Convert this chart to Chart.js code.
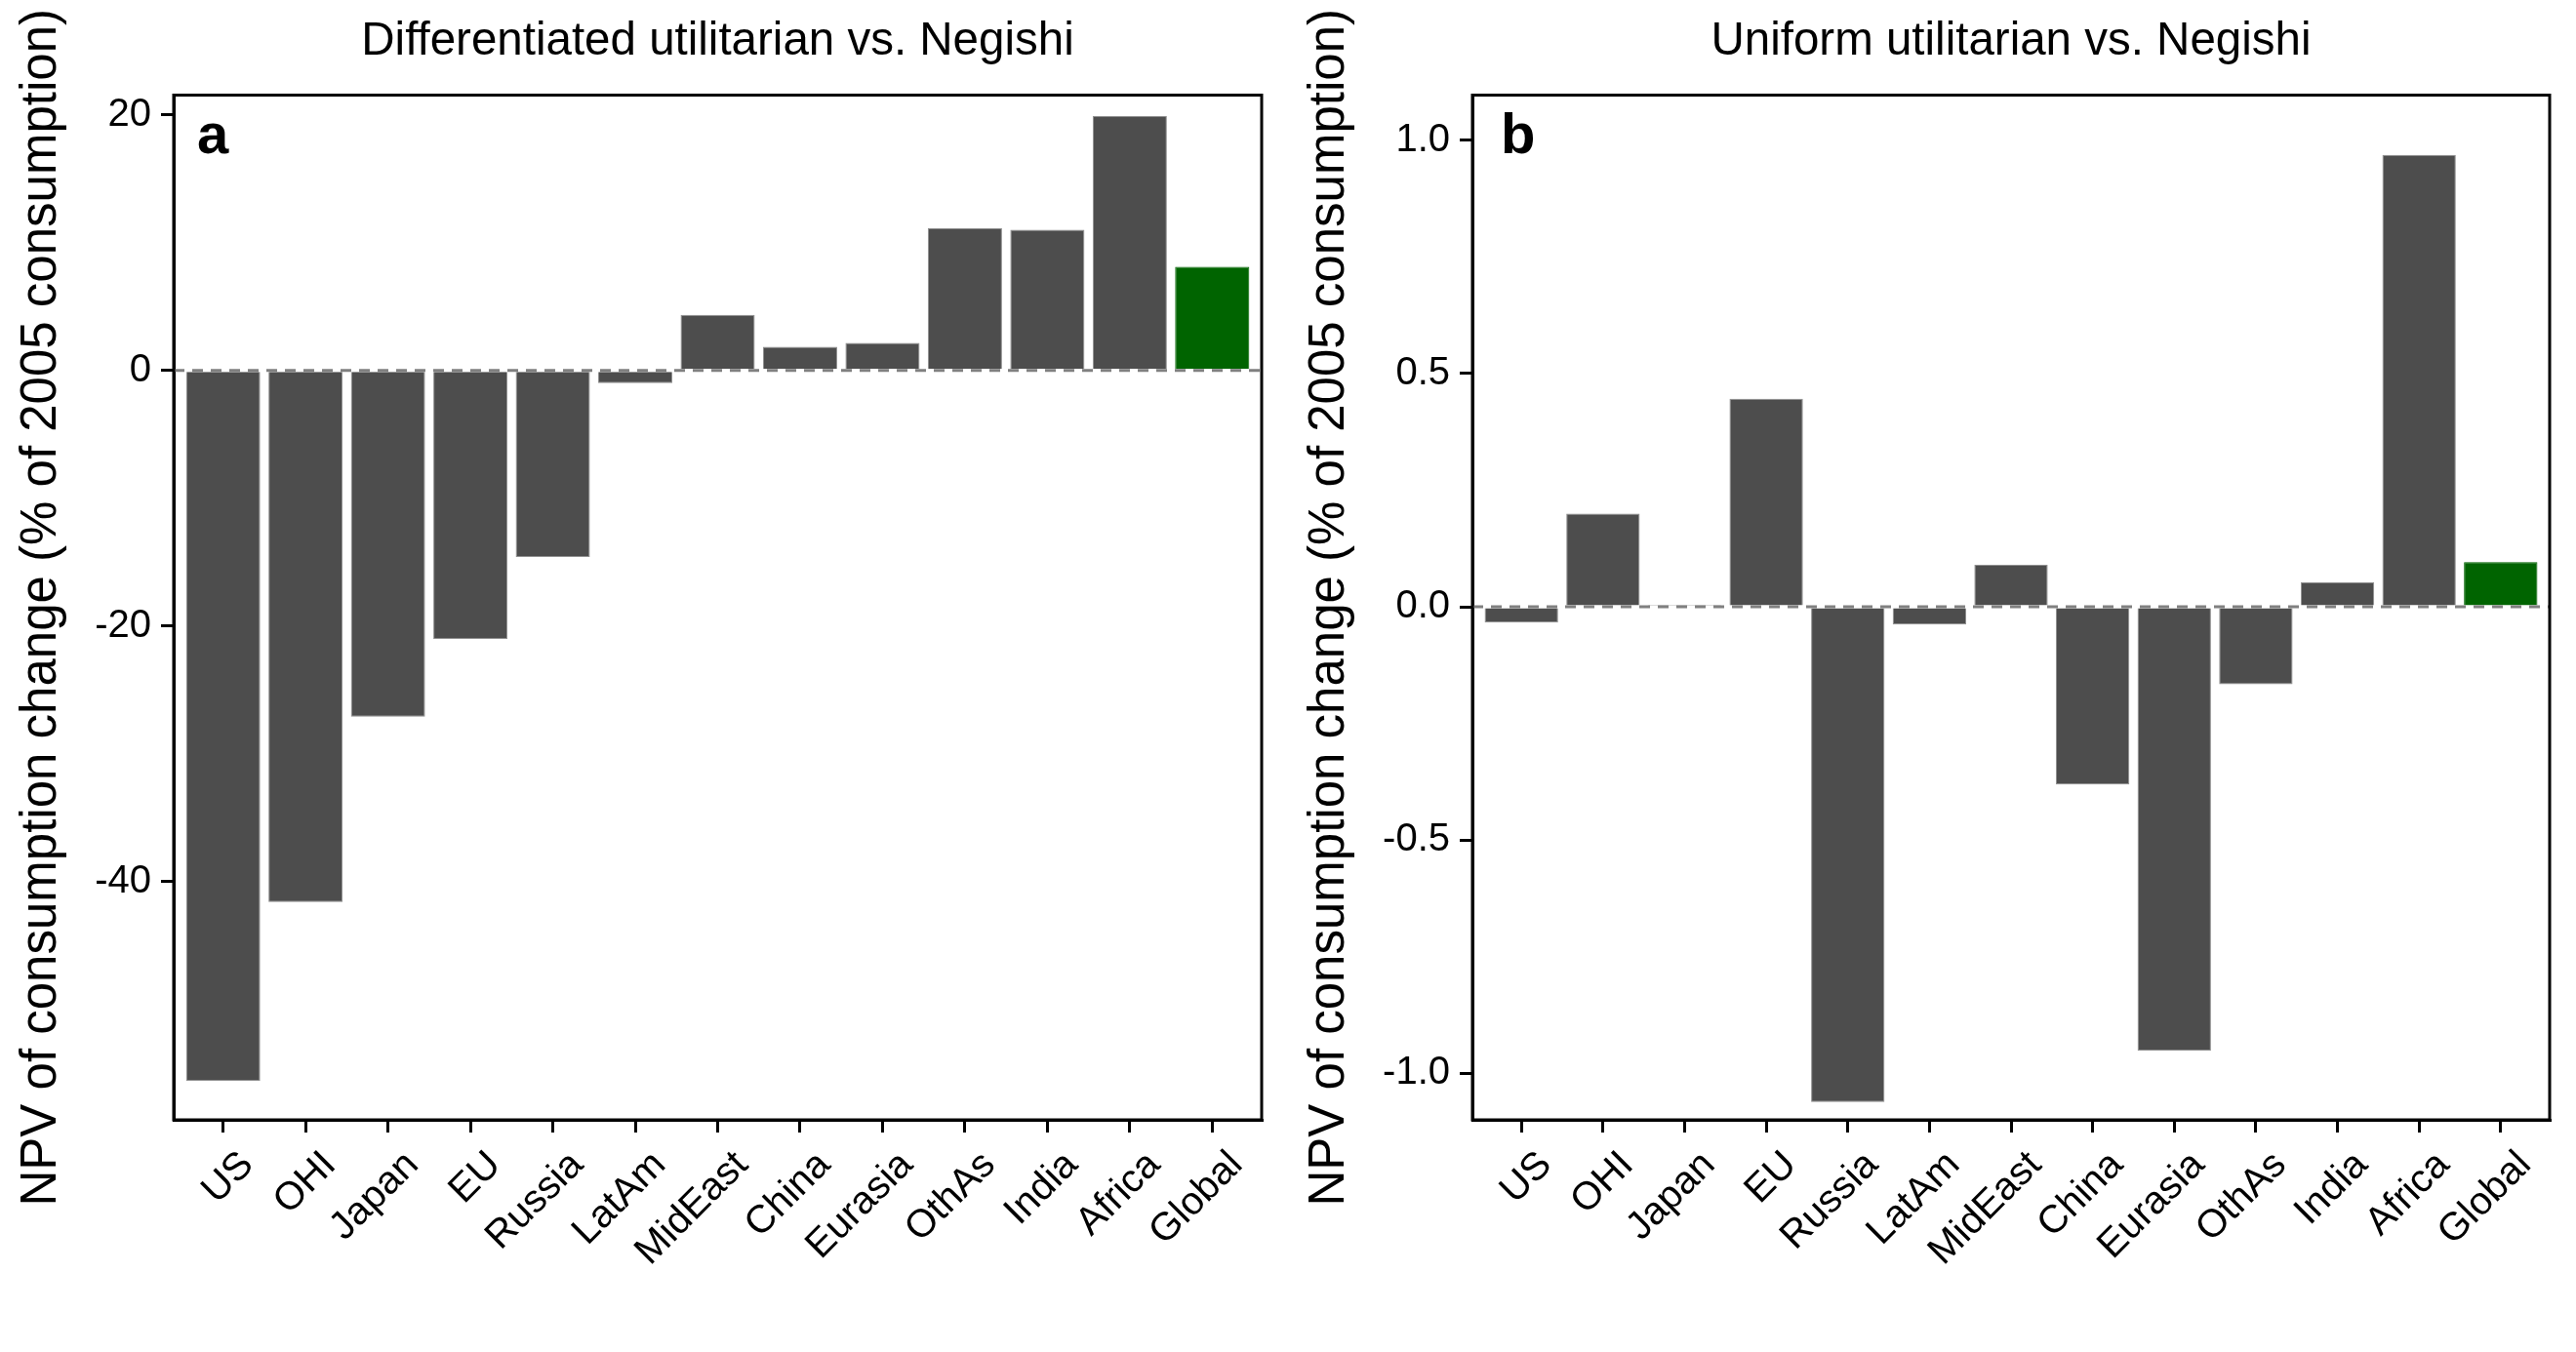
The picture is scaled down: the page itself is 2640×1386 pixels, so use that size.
<!DOCTYPE html>
<html>
<head>
<meta charset="utf-8">
<script src="https://cdn.jsdelivr.net/npm/chart.js@4.4.1/dist/chart.umd.min.js"></script>
<style>
  body { margin: 0; background: #fff; }
  #wrap { position: relative; width: 2640px; height: 1386px; }
  canvas { position: absolute; top: 0; }
</style>
</head>
<body>
<div id="wrap">
  <canvas id="panelA" width="1320" height="1386" style="left:0"></canvas>
  <canvas id="panelB" width="1320" height="1386" style="left:1320px"></canvas>
</div>
<script>
const categories = ["US", "OHI", "Japan", "EU", "Russia", "LatAm", "MidEast", "China", "Eurasia", "OthAs", "India", "Africa", "Global"];

// NPV of consumption change, % of 2005 consumption
const diffUtilVsNegishi = [-55.6, -41.6, -27.1, -21.0, -14.6, -1.0, 4.35, 1.85, 2.15, 11.15, 11.0, 19.9, 8.1];
const unifUtilVsNegishi = [-0.034, 0.200, 0.004, 0.446, -1.062, -0.038, 0.090, -0.381, -0.952, -0.166, 0.053, 0.969, 0.096];

const yTicksA = [-40, -20, 0, 20];
const yTicksB = [-1.0, -0.5, 0.0, 0.5, 1.0];

const yTitle = "NPV of consumption change (% of 2005 consumption)";

Chart.defaults.font.family = "'Liberation Sans', Arial, Helvetica, sans-serif";
Chart.defaults.color = "#000";

// dashed zero line, panel frame and panel letter
const framePlugin = {
  id: "frame",
  afterDatasetsDraw(chart, args, opts) {
    const { ctx, chartArea: a, scales } = chart;
    const y0 = scales.y.getPixelForValue(0);
    ctx.save();
    ctx.strokeStyle = "#808080";
    ctx.lineWidth = 3;
    ctx.setLineDash([11, 8]);
    ctx.beginPath();
    ctx.moveTo(a.left, y0);
    ctx.lineTo(a.right, y0);
    ctx.stroke();
    ctx.setLineDash([]);
    ctx.strokeStyle = "#000";
    ctx.lineWidth = 3;
    ctx.strokeRect(a.left, a.top, a.right - a.left, a.bottom - a.top);
    ctx.font = "bold 58px 'Liberation Sans', Arial, sans-serif";
    ctx.fillStyle = "#000";
    ctx.textBaseline = "alphabetic";
    ctx.fillText(opts.letter, a.left + opts.dx, 157);
    ctx.restore();
  }
};

function makePanel(canvasId, title, values, yMin, yMax, yTicks, fmt, axisWidth, letter, letterDx) {
  const ctx = document.getElementById(canvasId).getContext("2d");
  return new Chart(ctx, {
    type: "bar",
    data: {
      datasets: [{
        data: values.map((v, i) => ({ x: i + 1, y: v })),
        backgroundColor: categories.map(c => c === "Global" ? "#006400" : "#4d4d4d"),
        borderColor: categories.map(c => c === "Global" ? "#006400" : "#8f8f8f"),
        borderWidth: 1,
        barPercentage: 0.9,
        categoryPercentage: 1.0
      }]
    },
    options: {
      responsive: false,
      animation: false,
      layout: { padding: { left: 0, right: 27, top: 0, bottom: 0 } },
      plugins: {
        legend: { display: false },
        tooltip: { enabled: false },
        title: {
          display: true,
          text: title,
          fullSize: false,
          color: "#000",
          font: { size: 47.5, weight: "normal" },
          padding: { top: 14.5, bottom: 26 }
        },
        frame: { letter: letter, dx: letterDx }
      },
      scales: {
        x: {
          type: "linear",
          min: 0.4,
          max: 13.6,
          offset: false,
          afterBuildTicks: s => { s.ticks = categories.map((c, i) => ({ value: i + 1 })); },
          afterFit: s => { s.height = 238; },
          ticks: {
            autoSkip: false,
            minRotation: 45,
            maxRotation: 45,
            labelOffset: 25,
            padding: 10,
            color: "#000",
            font: { size: 40 },
            callback: v => categories[v - 1]
          },
          grid: { drawOnChartArea: false, drawTicks: true, offset: false, tickLength: 13, lineWidth: 3, tickWidth: 3, color: "#000", tickColor: "#000" },
          border: { display: true, color: "#000", width: 3 }
        },
        y: {
          min: yMin,
          max: yMax,
          afterBuildTicks: s => { s.ticks = yTicks.map(v => ({ value: v })); },
          afterFit: s => { s.width = axisWidth; },
          ticks: {
            padding: 10,
            color: "#000",
            font: { size: 40 },
            callback: v => fmt(v)
          },
          grid: { drawOnChartArea: false, drawTicks: true, tickLength: 13, lineWidth: 3, tickWidth: 3, color: "#000", tickColor: "#000" },
          border: { display: true, color: "#000", width: 3 },
          title: {
            display: true,
            text: yTitle,
            color: "#000",
            font: { size: 51 },
            padding: { top: 12.7, bottom: 0 }
          }
        }
      }
    },
    plugins: [framePlugin]
  });
}

makePanel("panelA", "Differentiated utilitarian vs. Negishi", diffUtilVsNegishi,
  -58.63, 21.54, yTicksA, v => String(v), 178, "a", 24);
makePanel("panelB", "Uniform utilitarian vs. Negishi", unifUtilVsNegishi,
  -1.100, 1.097, yTicksB, v => v.toFixed(1), 189, "b", 29);
</script>
</body>
</html>
